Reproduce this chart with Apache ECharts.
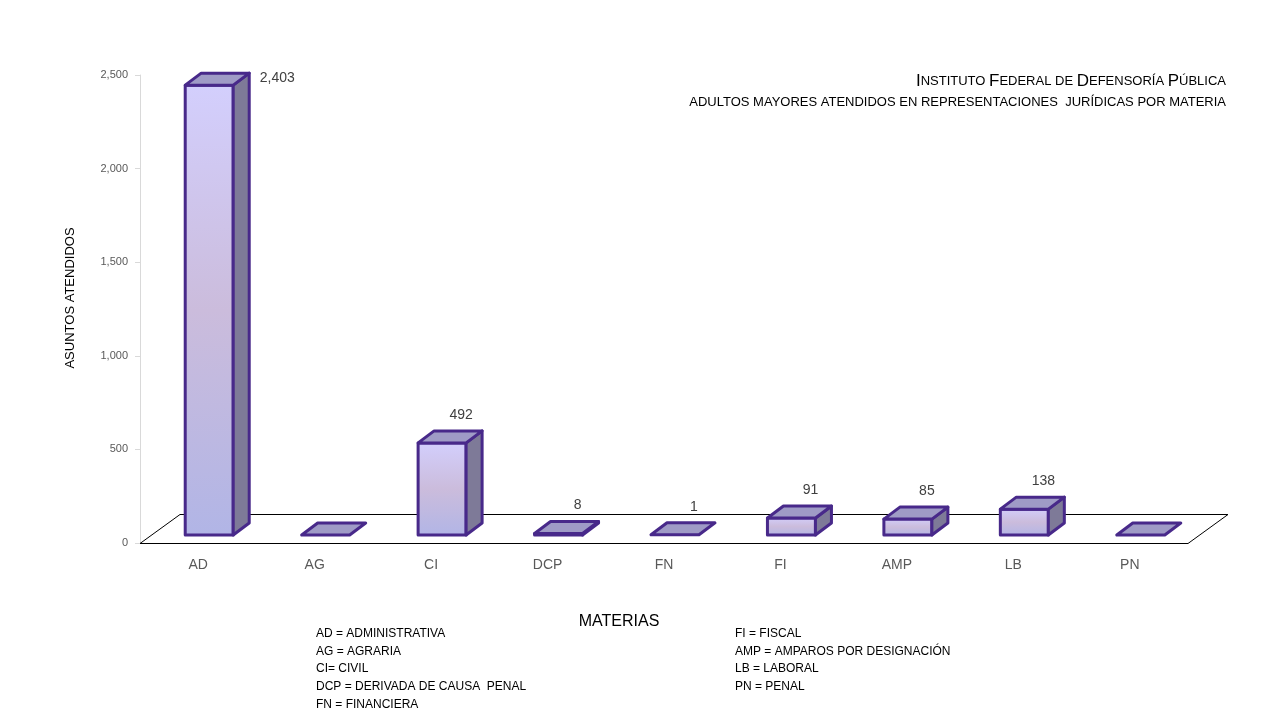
<!DOCTYPE html>
<html><head><meta charset="utf-8">
<script src="https://cdn.jsdelivr.net/npm/echarts@6/dist/echarts.min.js"></script>
<style>html,body{margin:0;padding:0;background:#fff}#c{width:1280px;height:720px}</style>
</head><body><div id="c"></div>
<script>
var categories = ['AD','AG','CI','DCP','FN','FI','AMP','LB','PN'];
var values = [2403, 0, 492, 8, 1, 91, 85, 138, 0];
var yTicks = [0, 500, 1000, 1500, 2000, 2500];
var notesLeft = ['AD = ADMINISTRATIVA','AG = AGRARIA','CI= CIVIL','DCP = DERIVADA DE CAUSA  PENAL','FN = FINANCIERA'];
var notesRight = ['FI = FISCAL','AMP = AMPAROS POR DESIGNACIÓN','LB = LABORAL','PN = PENAL'];

var FONT = 'Liberation Sans, Arial, sans-serif';
var STROKE = '#48298a';

function fmt(v){ return v.toLocaleString('en-US'); }

function renderFloor(params, api){
  var cs = params.coordSys;
  var x0 = cs.x, x1 = cs.x + cs.width, yb = cs.y + cs.height + 0.5;
  var dx = 40, dy = -29;
  return {
    type: 'polygon',
    shape: { points: [[x0,yb],[x1,yb],[x1+dx,yb+dy],[x0+dx,yb+dy]] },
    style: { fill: 'none', stroke: '#000', lineWidth: 1 },
    silent: true
  };
}

function renderBar(params, api){
  var idx = api.value(0), v = api.value(1);
  var base = api.coord([idx, 0]);
  var top = api.coord([idx, v]);
  var cx = base[0];
  var off = 11, half = 24, fdy = -8, ddx = 16, ddy = -12;
  var xl = cx + off - half, xr = cx + off + half;
  var yb = base[1] + fdy, yt = top[1] + fdy;
  var children = [];
  var st = { stroke: STROKE, lineWidth: 3, lineJoin: 'round' };
  if (yb - yt > 0.5) {
    children.push({ type: 'polygon', shape: { points: [[xl,yt],[xr,yt],[xr,yb],[xl,yb]] },
      style: Object.assign({ fill: new echarts.graphic.LinearGradient(0,0,0,1,[
        {offset:0,color:'#d3cffd'},{offset:0.5,color:'#cbbcdc'},{offset:1,color:'#b1b5e6'}]) }, st) });
    children.push({ type: 'polygon', shape: { points: [[xr,yt],[xr+ddx,yt+ddy],[xr+ddx,yb+ddy],[xr,yb]] },
      style: Object.assign({ fill: '#7e7a98' }, st) });
  }
  children.push({ type: 'polygon', shape: { points: [[xl,yt],[xr,yt],[xr+ddx,yt+ddy],[xl+ddx,yt+ddy]] },
    style: Object.assign({ fill: '#9f9bc6' }, st) });
  if (v > 0) {
    var ly = yt + ddy - 16, lx = cx + 30;
    if (ly < params.coordSys.y + 5) { lx = cx + 79; ly = yt + ddy + 5; }
    children.push({ type: 'text', style: { text: fmt(v), x: lx, y: ly, align: 'center', verticalAlign: 'middle',
      fill: '#404040', font: '14px ' + FONT } });
  }
  return { type: 'group', children: children };
}

var chart = echarts.init(document.getElementById('c'), null, { renderer: 'canvas' });
var graphics = [
  { type: 'text', right: 1280-1226, top: 73,
    style: { text: '{b|I}{s|NSTITUTO }{b|F}{s|EDERAL DE }{b|D}{s|EFENSORÍA }{b|P}{s|ÚBLICA}',
      rich: { b: { font: '17px ' + FONT, fill: '#000' }, s: { font: '13px ' + FONT, fill: '#000' } },
      fill: '#000' } },
  { type: 'text', right: 1280-1226, top: 96,
    style: { text: 'ADULTOS MAYORES ATENDIDOS EN REPRESENTACIONES  JURÍDICAS POR MATERIA', font: '13px ' + FONT, fill: '#000' } },
  { type: 'text', x: 70, y: 298, rotation: Math.PI/2,
    style: { text: 'ASUNTOS ATENDIDOS', font: '13px ' + FONT, fill: '#000', align: 'center', verticalAlign: 'middle' } },
  { type: 'text', x: 619, y: 622,
    style: { text: 'MATERIAS', font: '16px ' + FONT, fill: '#000', align: 'center', verticalAlign: 'middle' } }
];
notesLeft.forEach(function(t,i){
  graphics.push({ type: 'text', x: 316, y: 633.5 + i*17.7, style: { text: t, font: '12px ' + FONT, fill: '#000', verticalAlign: 'middle' } });
});
notesRight.forEach(function(t,i){
  graphics.push({ type: 'text', x: 735, y: 633.5 + i*17.7, style: { text: t, font: '12px ' + FONT, fill: '#000', verticalAlign: 'middle' } });
});

chart.setOption({
  animation: false,
  backgroundColor: '#fff',
  grid: { left: 140, right: 92, top: 75, bottom: 177, containLabel: false },
  xAxis: { type: 'category', data: categories,
    axisLine: { show: false }, axisTick: { show: false },
    axisLabel: { margin: 15, fontSize: 14, color: '#595959', fontFamily: FONT } },
  yAxis: { type: 'value', min: yTicks[0], max: yTicks[yTicks.length-1], interval: 500,
    axisLine: { show: true, lineStyle: { color: '#d9d9d9' } },
    axisTick: { show: true, length: 5, lineStyle: { color: '#d9d9d9' } },
    splitLine: { show: false },
    axisLabel: { margin: 12, fontSize: 11, color: '#595959', fontFamily: FONT,
      formatter: function(v){ return fmt(v); } } },
  graphic: graphics,
  series: [
    { type: 'custom', renderItem: renderFloor, data: [[0,0]], silent: true, z: 1 },
    { type: 'custom', renderItem: renderBar, z: 2,
      data: values.map(function(v,i){ return [i, v]; }),
      encode: { x: 0, y: 1 } }
  ]
});
</script></body></html>
